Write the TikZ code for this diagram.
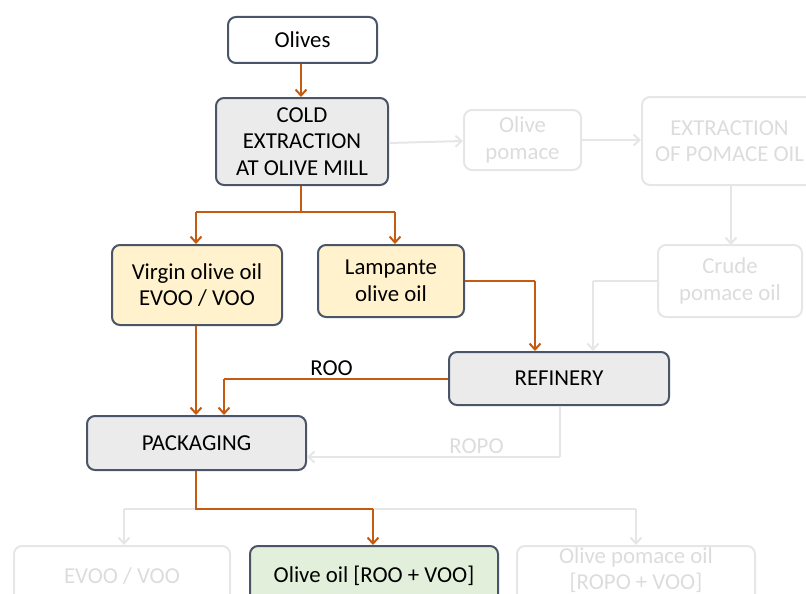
\documentclass[tikz,border=0pt]{standalone}
\usepackage{fontspec}
\setmainfont{Carlito}
\usetikzlibrary{arrows.meta}
\definecolor{bord}{HTML}{4A5568}
\definecolor{orng}{HTML}{C55A11}
\definecolor{fadeline}{HTML}{E6E6E6}
\definecolor{fadetext}{HTML}{DCDCDC}
\definecolor{grayfill}{HTML}{EBEBEB}
\definecolor{yellowfill}{HTML}{FFF2CC}
\definecolor{greenfill}{HTML}{E2EFDA}
\tikzset{
  txt/.style={font=\fontsize{22.8}{26.5}\selectfont},
  box/.style={draw=bord,line width=2pt,rounded corners=8pt,txt,align=center,inner sep=0pt},
  fadebox/.style={draw=fadeline,line width=2pt,rounded corners=8pt,txt,align=center,text=fadetext,inner sep=0pt},
  oarr/.style={draw=orng,line width=2pt,-{Straight Barb[length=6pt,width=11pt,line width=2pt]}},
  oline/.style={draw=orng,line width=2pt},
  garr/.style={draw=fadeline,line width=2pt,-{Straight Barb[length=6pt,width=11pt,line width=2pt]}},
  gline/.style={draw=fadeline,line width=2pt},
}
\begin{document}
\begin{tikzpicture}[x=1pt,y=-1pt]
\useasboundingbox (0,0) rectangle (806,594);
\begin{scope}
\clip (0,0) rectangle (806,594);
% faded nodes
\node[fadebox,minimum width=117pt,minimum height=60pt] (pom) at (522.5,140) {Olive\\pomace};
\node[fadebox,minimum width=175pt,minimum height=88pt] (ext) at (729.5,141) {EXTRACTION\\OF POMACE OIL};
\node[fadebox,minimum width=144pt,minimum height=72pt] (crude) at (730,281) {Crude\\pomace oil};
\node[fadebox,minimum width=216pt,minimum height=60pt] (evoo) at (122,576) {EVOO / VOO};
\node[fadebox,minimum width=238pt,minimum height=60pt] (opo) at (636,576) {};
\node[text=fadetext,txt,align=center] (opot) at (636,570) {Olive pomace oil\\{[ROPO + VOO]}};
% main nodes
\node[box,minimum width=149pt,minimum height=46pt] (olives) at (302.5,40) {Olives};
\node[box,fill=grayfill,minimum width=172pt,minimum height=87pt] (cold) at (302,141.5) {COLD\\EXTRACTION\\AT OLIVE MILL};
\node[box,fill=yellowfill,minimum width=170pt,minimum height=80pt] (virgin) at (197,285) {Virgin olive oil\\EVOO / VOO};
\node[box,fill=yellowfill,minimum width=146pt,minimum height=72pt] (lamp) at (391,281) {Lampante\\olive oil};
\node[box,fill=grayfill,minimum width=220pt,minimum height=53pt] (ref) at (559,378.5) {REFINERY};
\node[box,fill=grayfill,minimum width=219pt,minimum height=54pt] (pack) at (196.5,443) {PACKAGING};
\node[box,fill=greenfill,minimum width=248pt,minimum height=60pt] (oo) at (374,576) {Olive oil [ROO + VOO]};
\end{scope}
% coordinates
\coordinate (c1) at (301,212);
\coordinate (c2) at (196,212);
\coordinate (c3) at (395,212);
\coordinate (l1) at (535,281);
\coordinate (r1) at (224,379);
\coordinate (p1) at (196,509);
\coordinate (p2) at (373,509);
\coordinate (g1) at (124,509);
\coordinate (g2) at (636,509);
\coordinate (cr1) at (593,281);
\coordinate (rb1) at (560,457);
% gray connectors
\draw[garr] (cold.east |- 0,143) -- (pom.west |- 0,141);
\draw[garr] (pom.east) -- (ext.west |- pom.east);
\draw[garr] (731,185) -- (731,245);
\draw[gline] (crude.west) -- (cr1);
\draw[garr] (cr1) -- (cr1 |- ref.north);
\draw[gline] (ref.south -| rb1) -- (rb1);
\draw[garr] (rb1) -- (pack.east |- rb1) node[pos=0.33,above=-1pt,text=fadetext,txt] (ropo) {ROPO};
\draw[gline] (g1) -- (g2);
\draw[garr] (g1) -- (g1 |- evoo.north);
\draw[garr] (g2) -- (g2 |- opo.north);
% orange connectors
\draw[oarr] (olives.south -| 301,0) -- (cold.north -| 301,0);
\draw[oline] (cold.south -| c1) -- (c1);
\draw[oline] (c2) -- (c3);
\draw[oarr] (c2) -- (c2 |- virgin.north);
\draw[oarr] (c3) -- (c3 |- lamp.north);
\draw[oline] (lamp.east) -- (l1);
\draw[oarr] (l1) -- (l1 |- ref.north);
\draw[oarr] (virgin.south -| c2) -- (c2 |- pack.north);
\draw[oline] (ref.west |- r1) -- (r1) node[pos=0.52,above=-1pt,txt] (roo) {ROO};
\draw[oarr] (r1) -- (r1 |- pack.north);
\draw[oline] (pack.south -| p1) -- (p1) -- (p2);
\draw[oarr] (p2) -- (p2 |- oo.north);
\end{tikzpicture}
\end{document}
